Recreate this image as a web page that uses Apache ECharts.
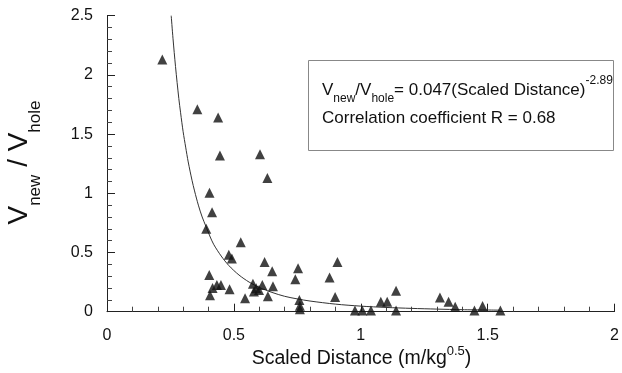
<!DOCTYPE html>
<html>
<head>
<meta charset="utf-8">
<script src="https://cdn.jsdelivr.net/npm/echarts@6/dist/echarts.min.js"></script>
<style>html,body{margin:0;padding:0;background:#fff}#c{width:622px;height:373px}</style>
</head>
<body>
<div id="c"></div>
<script>
// Scaled distance (x) of each measured point
var pointX = [0.218,0.356,0.438,0.445,0.603,0.632,0.404,0.414,0.391,0.527,0.480,0.492,0.621,0.651,0.403,0.575,0.588,0.579,0.612,0.599,0.654,0.634,0.544,0.483,0.433,0.449,0.416,0.406,0.742,0.753,0.758,0.760,0.760,0.877,0.908,0.899,0.977,1.006,1.040,1.079,1.104,1.139,1.139,1.312,1.346,1.372,1.448,1.480,1.550];
// Vnew/Vhole (y) of each measured point
var pointY = [2.13,1.71,1.64,1.32,1.33,1.13,1.005,0.84,0.70,0.586,0.48,0.45,0.42,0.342,0.31,0.237,0.198,0.17,0.225,0.183,0.215,0.13,0.113,0.19,0.225,0.225,0.2,0.139,0.274,0.367,0.099,0.05,0.02,0.288,0.42,0.125,0.01,0.01,0.01,0.083,0.083,0.176,0.01,0.12,0.085,0.042,0.01,0.048,0.01];
// Fitted curve
var curveX = [0.253,0.26,0.27,0.283,0.29,0.30,0.31,0.32,0.335,0.345,0.36,0.375,0.39,0.405,0.42,0.45,0.48,0.52,0.56,0.60,0.65,0.70,0.75,0.80,0.90,1.00,1.10,1.20,1.30,1.40,1.55];
var curveY = [2.5,2.31,2.07,1.80,1.68,1.52,1.39,1.265,1.11,1.02,0.90,0.80,0.72,0.64,0.57,0.47,0.39,0.31,0.25,0.205,0.163,0.13,0.108,0.09,0.064,0.047,0.036,0.028,0.022,0.017,0.013];
var xTicks = {min:0, max:2, interval:0.5};
var yTicks = {min:0, max:2.5, interval:0.5};
var fitText = ['V','new','/V','hole','= 0.047(Scaled Distance)','-2.89'];
var corrText = 'Correlation coefficient R = 0.68';

var FONT = 'Liberation Sans, Arial, sans-serif';
var chart = echarts.init(document.getElementById('c'), null, {renderer:'canvas'});
var scatterData = pointX.map(function(x,i){return [x, pointY[i]];});
var curveData = curveX.map(function(x,i){return [x, curveY[i]];});

function axisCommon(){
  return {
    axisLine:{show:true, onZero:false, lineStyle:{color:'#222', width:1}},
    axisTick:{show:true, inside:true, length:8, lineStyle:{color:'#222', width:1}},
    minorTick:{show:true, splitNumber:5, length:5, lineStyle:{color:'#444', width:1}},
    splitLine:{show:false},
    minorSplitLine:{show:false},
    axisLabel:{color:'#111', fontSize:16, fontFamily:FONT}
  };
}
var xa = axisCommon(); xa.type='value'; xa.min=xTicks.min; xa.max=xTicks.max; xa.interval=xTicks.interval; xa.axisLabel.margin=16;
var ya = axisCommon(); ya.type='value'; ya.min=yTicks.min; ya.max=yTicks.max; ya.interval=yTicks.interval; ya.axisLabel.margin=14;

chart.setOption({
  backgroundColor:'#fff',
  animation:false,
  grid:{left:107, right:4, top:15.7, bottom:61.3, containLabel:false},
  xAxis:xa,
  yAxis:ya,
  series:[
    {type:'line', data:curveData, smooth:0.3, showSymbol:false, symbol:'none', clip:false,
     lineStyle:{color:'#333', width:1}, z:2},
    {type:'scatter', data:scatterData, symbol:'triangle', symbolSize:10, clip:false,
     itemStyle:{color:'#111'}, z:3}
  ],
  graphic:[
    {type:'rect', shape:{x:308.5, y:60.5, width:305, height:90}, style:{fill:'none', stroke:'#888', lineWidth:1}, silent:true},
    {type:'text', x:322, y:75, style:{
      text:'{m|'+fitText[0]+'}{s|'+fitText[1]+'}{m|'+fitText[2]+'}{s|'+fitText[3]+'}{m|'+fitText[4]+'}{p|'+fitText[5]+'}',
      align:'left', verticalAlign:'top',
      rich:{
        m:{fontSize:17, fontFamily:FONT, fill:'#111', lineHeight:30, verticalAlign:'middle'},
        s:{fontSize:12, fontFamily:FONT, fill:'#111', lineHeight:12, verticalAlign:'bottom'},
        p:{fontSize:12, fontFamily:FONT, fill:'#111', lineHeight:12, verticalAlign:'top'}
      }}},
    {type:'text', x:322, y:118, style:{text:corrText, fontSize:17, fontFamily:FONT, fill:'#111', align:'left', verticalAlign:'middle'}},
    {type:'text', x:5.6, y:162.5, rotation:Math.PI/2, style:{
      text:'{m|V}{s|new}{m| / V}{s|hole}',
      align:'center', verticalAlign:'top',
      rich:{
        m:{fontSize:28, fontFamily:FONT, fill:'#111', lineHeight:38, verticalAlign:'top'},
        s:{fontSize:17, fontFamily:FONT, fill:'#111', lineHeight:17, verticalAlign:'bottom'}
      }}},
    {type:'text', x:361.5, y:344.5, style:{
      text:'{m|Scaled Distance (m/kg}{p|0.5}{m|)}',
      align:'center', verticalAlign:'top',
      rich:{
        m:{fontSize:19.5, fontFamily:FONT, fill:'#111', lineHeight:24, verticalAlign:'bottom'},
        p:{fontSize:13, fontFamily:FONT, fill:'#111', lineHeight:13, verticalAlign:'top'}
      }}}
  ]
});
</script>
</body>
</html>
